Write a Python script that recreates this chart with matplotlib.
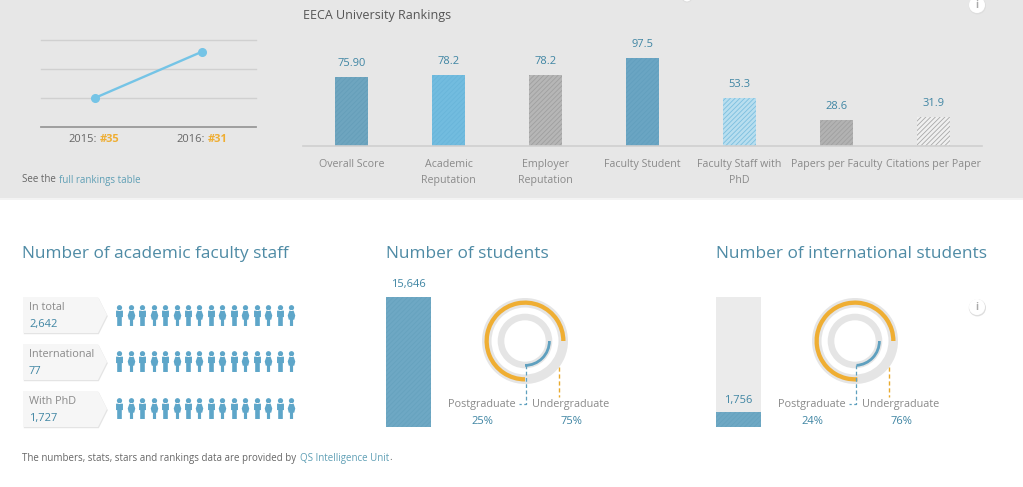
import numpy as np
import matplotlib
matplotlib.use("Agg")
import matplotlib.pyplot as plt
from matplotlib.path import Path
from matplotlib.patches import Polygon, Circle, Rectangle

plt.rcParams['font.family'] = ['Open Sans', 'DejaVu Sans']
plt.rcParams['hatch.linewidth'] = 0.6

# data
rank_years = ['2015', '2016']
rank_values = [35, 31]
rank_grid = [30, 32.5, 35, 37.5]

score_names = ['Overall Score', 'Academic\nReputation', 'Employer\nReputation', 'Faculty Student',
               'Faculty Staff with\nPhD', 'Papers per Faculty', 'Citations per Paper']
score_values = [75.90, 78.2, 78.2, 97.5, 53.3, 28.6, 31.9]
score_labels = ['75.90', '78.2', '78.2', '97.5', '53.3', '28.6', '31.9']

staff_names = ['In total', 'International', 'With PhD']
staff_values = ['2,642', '77', '1,727']
staff_icons = [16, 16, 16]

students_total = 15646
students_intl = 1756
students_scale = 15646
share_names = ['Postgraduate', 'Undergraduate']
share_all = [25, 75]
share_intl = [24, 76]

# colours
TEAL = '#3f85a3'
LABEL = '#8a8a8a'
DARK = '#666666'
ORANGE = '#efae33'
BLUE = '#5fa0bf'
RING = '#e5e5e5'
bar_faces = ['#6ea5bf', '#72bcdf', '#b6b6b6', '#6aa5c3', '#b8deef', '#b2b2b2', '#f0f0f0']
bar_hatch = ['#659eb9', '#69b5da', '#9f9f9f', '#629fbe', '#7cbfdf', '#a0a0a0', '#a8a8a8']

fig = plt.figure(figsize=(10.23, 4.87), dpi=100, facecolor='white')
W, H = 1023, 487


def px_axes(x0, y0, x1, y1, **kw):
    ax = fig.add_axes([x0 / W, 1 - y1 / H, (x1 - x0) / W, (y1 - y0) / H], **kw)
    ax.patch.set_alpha(0)
    return ax


# background layer, in pixels
back = px_axes(0, 0, W, H, zorder=-1)
back.set_xlim(0, W)
back.set_ylim(H, 0)
back.axis('off')
back.add_patch(Rectangle((0, 0), W, 198, fc='#e7e7e7', ec='none'))
back.add_patch(Rectangle((0, 198), W, 1.5, fc='#f3f3f3', ec='none'))

# text layer on top, in pixels
page = px_axes(0, 0, W, H, zorder=10)
page.set_xlim(0, W)
page.set_ylim(H, 0)
page.axis('off')


def text_run(x, y, parts, size):
    r = fig.canvas.get_renderer()
    for s, col in parts:
        t = page.text(x, y, s, color=col, fontsize=size, va='center', ha='left')
        x += t.get_window_extent(r).width + (1 if s.endswith(' ') else 0)


# rank line
ax = px_axes(41, 40, 256, 127)
ax.set_xlim(-0.5, 1.5)
ax.set_ylim(37.5, 30)
ax.axis('off')
for g in rank_grid:
    last = g == rank_grid[-1]
    ax.axhline(g, color='#999999' if last else '#d0d0d0', lw=1.3 if last else 1, clip_on=False, zorder=1)
ax.plot(range(len(rank_values)), rank_values, color='#75c4e6', lw=1.7, marker='o', ms=5.5, zorder=3)
for i, (yr, v) in enumerate(zip(rank_years, rank_values)):
    cx = 94 + i * 108
    page.text(cx + 3, 140, yr + ':', color=DARK, fontsize=8, ha='right', va='center')
    page.text(cx + 6, 140, '#%d' % v, color=ORANGE, fontsize=8, ha='left', va='center', fontweight='bold')

text_run(22, 180, [('See the ', DARK), ('full rankings table', '#5f9fb5')], 7)
page.text(303, 15.5, 'EECA University Rankings', color='#555555', fontsize=9, va='center')

# score bars
ax = px_axes(303, 47, 982, 146)
ax.set_xlim(-0.5, 6.5)
ax.set_ylim(0, 99 / 0.9026)
xs = np.arange(len(score_values))
for x, v, lab, fc, hc in zip(xs, score_values, score_labels, bar_faces, bar_hatch):
    ax.bar(x, v, width=0.33, color=fc, edgecolor=hc, hatch='///////', lw=0)
    ax.text(x, v + 9.2, lab, color=TEAL, fontsize=8, ha='center', va='bottom')
for s in ['top', 'left', 'right']:
    ax.spines[s].set_visible(False)
ax.spines['bottom'].set_color('#cfcfcf')
ax.spines['bottom'].set_linewidth(1.2)
ax.set_yticks([])
ax.set_xticks(xs, score_names, color=LABEL, fontsize=7.7, linespacing=1.65)
ax.tick_params(axis='x', length=0, pad=9.5)

# section titles
page.text(22, 253.5, 'Number of academic faculty staff', color='#4f8ba5', fontsize=12.4, va='center')
page.text(386, 253.5, 'Number of students', color='#4f8ba5', fontsize=12.4, va='center')
page.text(716, 253.5, 'Number of international students', color='#4f8ba5', fontsize=12.4, va='center')

# staff tags
tag_tops = [297, 344, 391]
for top, name, val in zip(tag_tops, staff_names, staff_values):
    pts = [(23, top), (98, top), (107, top + 18), (98, top + 36), (23, top + 36)]
    page.add_patch(Polygon([(a + 0.8, b + 1.2) for a, b in pts], fc='#e4e4e4', ec='none'))
    page.add_patch(Polygon(pts, fc='#f6f6f6', ec='none'))
    page.text(29, top + 10.5, name, color=LABEL, fontsize=7.8, va='center')
    page.text(29, top + 27, val, color=TEAL, fontsize=8, va='center')

# person markers
head = Path.circle((0, 0.74), 0.25)
man_body = Path([(-0.33, 0.46), (0.33, 0.46), (0.33, -0.15), (0.22, -0.15), (0.22, -1), (-0.22, -1),
                 (-0.22, -0.15), (-0.33, -0.15), (-0.33, 0.46)], closed=True)
woman_body = Path([(-0.2, 0.46), (0.2, 0.46), (0.36, 0.0), (0.26, -0.4), (0.15, -0.4), (0.15, -1), (-0.15, -1),
                   (-0.15, -0.4), (-0.26, -0.4), (-0.36, 0.0), (-0.2, 0.46)], closed=True)
man = Path.make_compound_path(head, man_body)
woman = Path.make_compound_path(head, woman_body)

ax = px_axes(113.6, 292, 296.7, 431)
ax.set_xlim(-0.5, 15.5)
ax.set_ylim(2.5, -0.5)
ax.axis('off')
for row, n in enumerate(staff_icons):
    idx = np.arange(n)
    ax.scatter(idx[::2], [row] * len(idx[::2]), marker=man, s=228, color='#5ea6c9', lw=0)
    ax.scatter(idx[1::2], [row] * len(idx[1::2]), marker=woman, s=228, color='#5ea6c9', lw=0)


# student columns
def column(x0, value, label, label_y):
    a = px_axes(x0, 297, x0 + 45, 427)
    a.set_xlim(0, 1)
    a.set_ylim(0, students_scale)
    a.axis('off')
    a.add_patch(Rectangle((0, 0), 1, students_scale, fc='#ebebeb', ec='none'))
    a.bar(0.5, value, width=1, color='#6ea8c4', edgecolor='#66a2be', hatch='///////', lw=0)
    page.text(x0 + 22.5, label_y, label, color=TEAL, fontsize=8, ha='center', va='center')


column(386, students_total, f'{students_total:,}', 285)
column(716, students_intl, f'{students_intl:,}', 400)


# donuts
def donut(cx, cy, share):
    post, under = share
    a = px_axes(cx - 48, cy - 48, cx + 48, cy + 48)
    a.pie([1], radius=43, colors=[RING], wedgeprops=dict(width=9.5, lw=0), frame=True)
    a.pie([1], radius=27.3, colors=[RING], wedgeprops=dict(width=6.6, lw=0), frame=True)
    a.pie([under, post], radius=40.5, startangle=0, colors=[ORANGE, 'none'],
          wedgeprops=dict(width=4.3, lw=0), frame=True)
    a.pie([post, under], radius=25.8, startangle=-360 * post / 100, colors=[BLUE, 'none'],
          wedgeprops=dict(width=2.8, lw=0), frame=True)
    a.set_xlim(-48, 48)
    a.set_ylim(-48, 48)
    a.set_aspect('equal')
    a.axis('off')
    page.plot([cx + 1, cx + 1, cx - 6], [365, 404, 404], color=BLUE, lw=0.9, ls=(0, (3, 2)))
    page.plot([cx + 34, cx + 34], [367, 397], color='#e9a92c', lw=1, ls=(0, (3, 2)))
    page.text(cx - 43, 404, share_names[0], color=LABEL, fontsize=7.8, ha='center', va='center')
    page.text(cx + 46, 404, share_names[1], color=LABEL, fontsize=7.8, ha='center', va='center')
    page.text(cx - 43, 422, '%d%%' % post, color=TEAL, fontsize=8, ha='center', va='center')
    page.text(cx + 46, 422, '%d%%' % under, color=TEAL, fontsize=8, ha='center', va='center')


donut(525, 341, share_all)
donut(855, 341, share_intl)

# info buttons
for ix, iy, r in [(977, 5, 8), (977, 307, 8)]:
    page.add_patch(Circle((ix + 0.4, iy + 0.8), r + 0.6, fc='#dedede', ec='none', zorder=5))
    page.add_patch(Circle((ix, iy), r, fc='white', ec='none', zorder=6))
    page.text(ix, iy, 'i', color='#aaaaaa', fontsize=7, ha='center', va='center', zorder=7, fontweight='bold')
page.add_patch(Circle((687, -3), 5, fc='white', ec='#dedede', lw=0.8))

# footer
text_run(22, 458, [('The numbers, stats, stars and rankings data are provided by ', DARK),
                   ('QS Intelligence Unit', '#5f9fb5'), ('.', DARK)], 7)

fig.savefig('out.png', dpi=100, facecolor='white')
